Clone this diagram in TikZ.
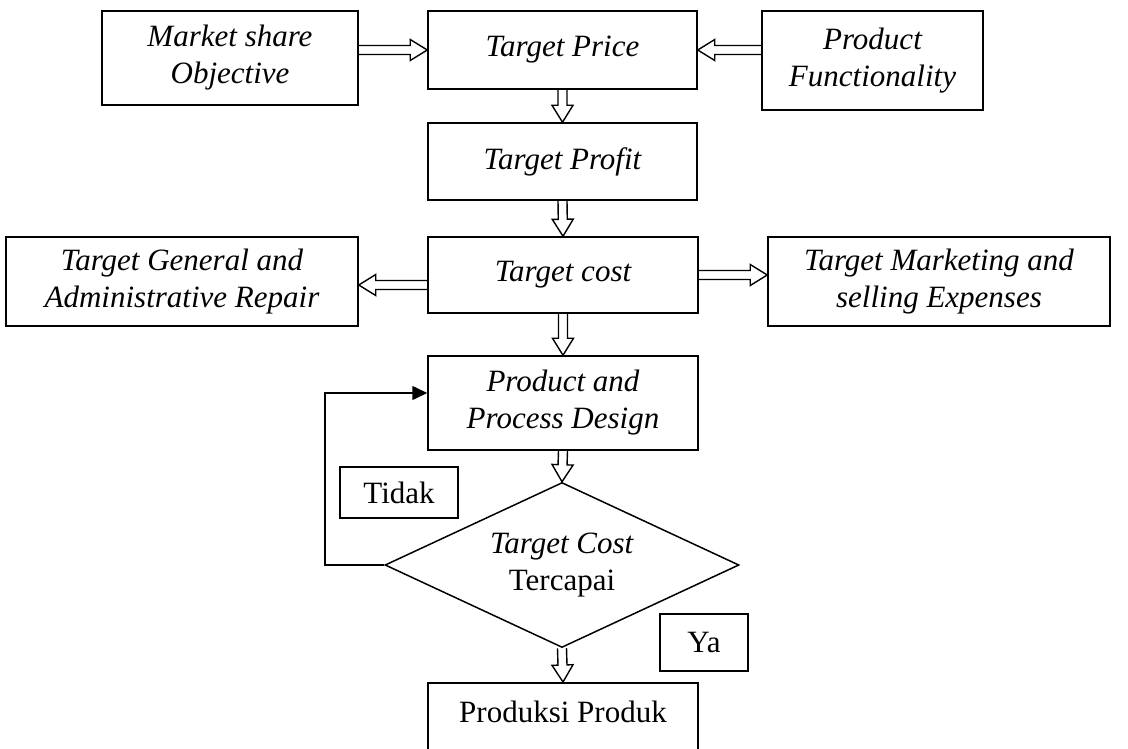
\documentclass[tikz,border=0pt]{standalone}
\usepackage{fontspec}
\setmainfont{Liberation Serif}
\usetikzlibrary{calc,shapes.geometric,arrows.meta}
\tikzset{
  box/.style={draw, line width=1.5pt, inner sep=0pt, align=center, font=\fontsize{31}{37}\selectfont\itshape},
  plainbox/.style={draw, line width=1.5pt, inner sep=0pt, align=center, font=\fontsize{31}{37}\selectfont},
  harrowline/.style={line width=1.4pt, line join=miter},
  loopline/.style={line width=1.5pt, -{Triangle[length=15pt,width=14pt]}},
}
\newcommand\hollowarrow[2]{%
  \coordinate (ha-b) at ($(#2)!17pt!(#1)$);
  \draw[harrowline] ($(#1)!4.5pt!90:(#2)$) -- ($(ha-b)!4.5pt!90:(#2)$) -- ($(ha-b)!10.5pt!90:(#2)$) -- (#2) -- ($(ha-b)!10.5pt!-90:(#2)$) -- ($(ha-b)!4.5pt!-90:(#2)$) -- ($(#1)!4.5pt!-90:(#2)$);
}
\begin{document}
\begin{tikzpicture}[x=1pt,y=-1pt]
\useasboundingbox (0,0) rectangle (1128,749);
\clip (0,0) rectangle (1128,749);
\fill[white] (0,0) rectangle (1128,749);

\node[box, minimum width=256pt, minimum height=94pt] (ms) at (230,58) {Market share\\Objective};
\node[box, minimum width=269pt, minimum height=78pt] (tp) at (562.5,50) {Target Price};
\node[box, minimum width=221pt, minimum height=99pt] (pf) at (872.5,60.5) {Product\\Functionality};
\node[box, minimum width=269pt, minimum height=77pt] (tpr) at (562.5,161.5) {Target Profit};
\node[box, minimum width=270pt, minimum height=76pt] (tc) at (563,275) {Target cost};
\node[box, minimum width=352pt, minimum height=89pt] (ga) at (182,281.5) {Target General and\\Administrative Repair};
\node[box, minimum width=342pt, minimum height=89pt] (mk) at (939,281.5) {Target Marketing and\\selling Expenses};
\node[box, minimum width=270pt, minimum height=94pt] (pd) at (563,403) {Product and\\Process Design};
\node[draw, diamond, aspect=2.15, minimum width=354pt, minimum height=165pt, inner sep=0pt, line width=1.5pt, align=center, font=\fontsize{31}{37}\selectfont] (dm) at (562,565) {\textit{Target Cost}\\Tercapai};
\node[plainbox, minimum width=118pt, minimum height=51pt] (td) at (399,492.5) {Tidak};
\node[plainbox, minimum width=88pt, minimum height=57pt] (ya) at (704,642.5) {Ya};
\node[plainbox, anchor=north, minimum width=270pt, text height=40pt, text depth=50pt] (pp) at (563,682) {Produksi Produk};

\coordinate (a1s) at (ms.east |- tp.west);
\hollowarrow{a1s}{tp.west}
\coordinate (a2s) at (pf.west |- tp.east);
\hollowarrow{a2s}{tp.east}
\hollowarrow{tp.south}{tpr.north}
\hollowarrow{tpr.south}{tc.north}
\coordinate (a5s) at ($(tc.west)+(0,10)$);
\coordinate (a5e) at (ga.east |- a5s);
\hollowarrow{a5s}{a5e}
\coordinate (a6e) at (mk.west |- tc.east);
\hollowarrow{tc.east}{a6e}
\hollowarrow{tc.south}{pd.north}
\hollowarrow{pd.south}{dm.north}
\hollowarrow{dm.south}{pp.north}

\coordinate (lp) at (325,393);
\draw[loopline] (dm.west) -| (lp) -- (lp -| pd.west);
\end{tikzpicture}
\end{document}
